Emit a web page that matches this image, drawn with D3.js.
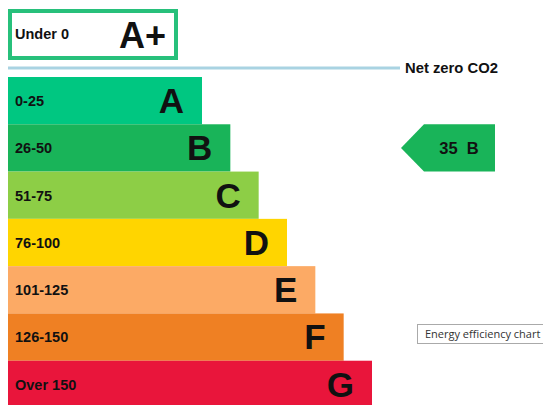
<!DOCTYPE html>
<html><head><meta charset="utf-8">
<script src="https://cdn.jsdelivr.net/npm/d3@7"></script>
<style>html,body{margin:0;padding:0;background:#fff;overflow:hidden}</style>
</head><body>
<svg id="c" width="543" height="405"></svg>
<script>
const bandLetters = ["A","B","C","D","E","F","G"];
const bandRanges = ["0-25","26-50","51-75","76-100","101-125","126-150","Over 150"];
const bandLength = [1,2,3,4,5,6,7];
const bandColors = ["#00c781","#19b459","#8dce46","#ffd500","#fcaa65","#ef8023","#e9153b"];
const topBand = {label:"Under 0", letter:"A+"};
const currentScore = 35;
const currentRating = "B";
const netZeroLabel = "Net zero CO2";
const captionText = "Energy efficiency chart";

const svg = d3.select("#c");
const F = "'Liberation Sans', Arial, sans-serif";

const y = d3.scaleBand().domain(bandLetters).range([77, 408]).paddingInner(0);
const x = d3.scaleLinear().domain([1, 7]).range([202, 372]);
const x0 = 8;

// A+ box
svg.append("rect").attr("x", 10).attr("y", 11).attr("width", 166).attr("height", 47)
  .attr("fill", "#fff").attr("stroke", "#27c07b").attr("stroke-width", 4);
svg.append("text").attr("x", 15).attr("y", 39).attr("font-family", F).attr("font-weight", "bold")
  .attr("font-size", 14.5).attr("fill", "#111").text(topBand.label);
svg.append("text").attr("x", 166).attr("y", 48).attr("text-anchor", "end").attr("font-family", F)
  .attr("font-weight", "bold").attr("font-size", 36).attr("fill", "#111").text(topBand.letter);

// net zero line
svg.append("line").attr("x1", x0).attr("x2", 400).attr("y1", 68).attr("y2", 68)
  .attr("stroke", "#a9d3e2").attr("stroke-width", 3);
svg.append("text").attr("x", 405).attr("y", 73).attr("font-family", F).attr("font-weight", "bold")
  .attr("font-size", 14.8).attr("fill", "#111").text(netZeroLabel);

const data = bandLetters.map((l, i) => ({letter: l, range: bandRanges[i], len: bandLength[i], color: bandColors[i]}));

const g = svg.selectAll("g.band").data(data).join("g").attr("class", "band");
g.append("rect").attr("x", x0).attr("y", d => y(d.letter)).attr("width", d => x(d.len) - x0)
  .attr("height", y.bandwidth()).attr("fill", d => d.color);
g.append("text").attr("x", 15).attr("y", d => y(d.letter) + 29).attr("font-family", F)
  .attr("font-weight", "bold").attr("font-size", 14.5).attr("fill", "#111").text(d => d.range);
g.append("text").attr("x", d => x(d.len) - 18).attr("y", d => y(d.letter) + 36)
  .attr("text-anchor", "end").attr("font-family", F).attr("font-weight", "bold")
  .attr("font-size", 35).attr("fill", "#111").text(d => d.letter);

// current rating arrow
const ay = y(currentRating), ah = y.bandwidth();
const tipX = 401, neckX = 424, rightX = 495;
svg.append("path")
  .attr("d", `M${tipX},${ay + ah/2} L${neckX},${ay} L${rightX},${ay} L${rightX},${ay + ah} L${neckX},${ay + ah} Z`)
  .attr("fill", bandColors[bandLetters.indexOf(currentRating)]);
svg.append("text").attr("x", 459).attr("y", ay + ah/2 + 6).attr("text-anchor", "middle")
  .attr("font-family", F).attr("font-weight", "bold").attr("font-size", 16.5).attr("fill", "#111")
  .attr("xml:space", "preserve").text(currentScore + "  " + currentRating);

// caption box
svg.append("rect").attr("x", 417.5).attr("y", 324.5).attr("width", 130).attr("height", 19)
  .attr("fill", "#fff").attr("stroke", "#aaa").attr("stroke-width", 1);
svg.append("text").attr("x", 425).attr("y", 338).attr("font-family", "'Open Sans', 'Noto Sans', sans-serif")
  .attr("font-size", 11).attr("fill", "#333").text(captionText);
</script>
</body></html>
